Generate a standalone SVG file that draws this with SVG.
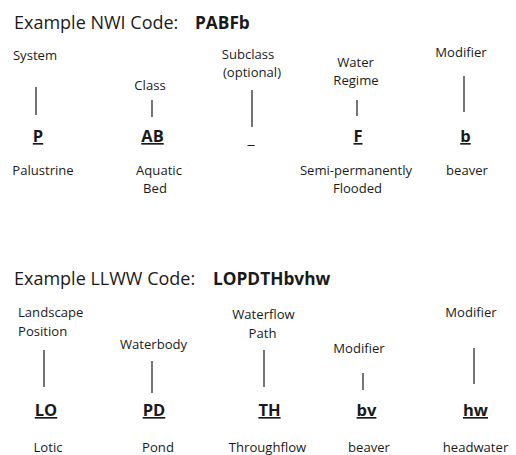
<svg xmlns="http://www.w3.org/2000/svg" width="516" height="455" viewBox="0 0 516 455">
<style>
text{font-family:"Open Sans","Liberation Sans",sans-serif;fill:#1a1a1a}
.t{font-size:18px}
.tb{font-size:17.3px;font-weight:bold}
.l{font-size:13.1px;text-anchor:middle}
.ls{font-size:13.1px}
.c{font-size:16.5px;font-weight:bold;text-anchor:middle;text-decoration:underline}
.cn line{stroke:#1a1a1a;stroke-width:1.2}
</style>
<rect width="516" height="455" fill="#fff"/>
<g id="title-nwi"><text class="t" x="14" y="29">Example NWI Code:</text><text class="tb" x="195" y="29">PABFb</text></g>
<g id="nwi-system"><text class="l" x="35" y="60">System</text><text class="c" x="38" y="142">P</text><text class="l" x="43" y="175">Palustrine</text></g>
<g id="nwi-class"><text class="l" x="150" y="90">Class</text><text class="c" x="152.5" y="142">AB</text><text class="l" x="159" y="175">Aquatic</text><text class="l" x="155" y="193">Bed</text></g>
<g id="nwi-subclass"><text class="l" x="248" y="59">Subclass</text><text class="l" x="252" y="77">(optional)</text><text class="l" x="251" y="144" style="font-size:16px">_</text></g>
<g id="nwi-regime"><text class="l" x="355.5" y="67">Water</text><text class="l" x="356" y="85">Regime</text><text class="c" x="358" y="142">F</text><text class="l" x="356" y="175">Semi-permanently</text><text class="l" x="357.5" y="193">Flooded</text></g>
<g id="nwi-modifier"><text class="l" x="461" y="57">Modifier</text><text class="c" x="465.5" y="142">b</text><text class="l" x="467" y="175">beaver</text></g>
<g id="title-llww"><text class="t" x="14" y="285">Example LLWW Code:</text><text class="tb" x="213" y="285">LOPDTHbvhw</text></g>
<g id="llww-landscape"><text class="ls" x="18" y="317">Landscape</text><text class="ls" x="18" y="336">Position</text><text class="c" x="46" y="416">LO</text><text class="l" x="48" y="452">Lotic</text></g>
<g id="llww-waterbody"><text class="l" x="153.5" y="349">Waterbody</text><text class="c" x="154" y="416">PD</text><text class="l" x="158" y="452">Pond</text></g>
<g id="llww-path"><text class="l" x="263.5" y="319">Waterflow</text><text class="l" x="262.5" y="338">Path</text><text class="c" x="269.5" y="416">TH</text><text class="l" x="267.5" y="452">Throughflow</text></g>
<g id="llww-mod1"><text class="l" x="359" y="353">Modifier</text><text class="c" x="366.5" y="416">bv</text><text class="l" x="369" y="452">beaver</text></g>
<g id="llww-mod2"><text class="l" x="471" y="317">Modifier</text><text class="c" x="475.5" y="416">hw</text><text class="l" x="475.5" y="452">headwater</text></g>
<g id="connectors" class="cn">
<line x1="36" y1="87" x2="36" y2="115"/>
<line x1="152" y1="100" x2="152" y2="117"/>
<line x1="252" y1="90" x2="252" y2="127"/>
<line x1="357" y1="100" x2="357" y2="116"/>
<line x1="464" y1="76" x2="464" y2="112"/>
<line x1="44" y1="350" x2="44" y2="387"/>
<line x1="152" y1="361" x2="152" y2="393"/>
<line x1="264" y1="350" x2="264" y2="387"/>
<line x1="363" y1="373" x2="363" y2="390"/>
<line x1="474" y1="348" x2="474" y2="384"/>
</g>
</svg>
